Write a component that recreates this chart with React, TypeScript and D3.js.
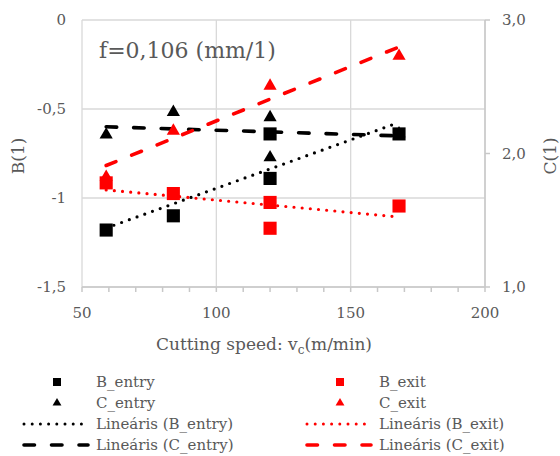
import React, { useEffect, useRef } from 'react';
import * as d3 from 'd3';

// cutting speeds (m/min) for each measured point
const speedsB = [59, 84, 120, 120, 168];
const speedsC = [59, 84, 120, 120, 168];
const speedsCexit = [59, 84, 120, 168];

const bEntry = [-1.18, -1.10, -0.89, -0.64, -0.64];
const cEntry = [2.14, 2.31, 2.27, 1.97, 2.15];
const bExit = [-0.915, -0.975, -1.025, -1.17, -1.045];
const cExit = [1.824, 2.169, 2.506, 2.73];

const xTicks = [50, 100, 150, 200];
const bTicks = [0, -0.5, -1, -1.5];
const cTicks = [1, 2, 3];

const BLACK = '#000000';
const RED = '#ff0000';
const GRID = '#d9d9d9';
const TEXT = '#595959';
const FONT = '"DejaVu Serif", serif';

const fmt = (v: number, digits: number) =>
  (digits ? v.toFixed(digits) : String(v)).replace('.', ',');

// least-squares fit, returns endpoints for the trendline
function trend(xs: number[], ys: number[]) {
  const mx = d3.mean(xs)!;
  const my = d3.mean(ys)!;
  const sxy = d3.sum(xs, (x, i) => (x - mx) * (ys[i] - my));
  const sxx = d3.sum(xs, x => (x - mx) * (x - mx));
  const slope = sxy / sxx;
  const [x0, x1] = d3.extent(xs) as [number, number];
  return [
    [x0, my + slope * (x0 - mx)],
    [x1, my + slope * (x1 - mx)],
  ];
}

const DOTTED = '0 8.2';
const DASHED = '10.5 17';

const App = () => {
  const svgRef = useRef<SVGSVGElement>(null);

  useEffect(() => {
    const width = 560;
    const height = 456;
    const left = 82, right = 485, top = 20, bottom = 287;

    const svg = d3.select(svgRef.current!)
      .attr('width', width)
      .attr('height', height)
      .style('display', 'block')
      .style('position', 'absolute')
      .style('left', '0px')
      .style('top', '0px')
      .style('font-family', FONT);
    svg.selectAll('*').remove();

    const x = d3.scaleLinear().domain([50, 200]).range([left, right]);
    const yB = d3.scaleLinear().domain([0, -1.5]).range([top, bottom]);
    const yC = d3.scaleLinear().domain([1, 3]).range([bottom, top]);

    // gridlines
    const grid = svg.append('g').attr('stroke', GRID).attr('stroke-width', 1.3);
    grid.selectAll('line.h').data(bTicks).join('line')
      .attr('x1', left).attr('x2', right)
      .attr('y1', d => yB(d)).attr('y2', d => yB(d));
    grid.selectAll('line.v').data(xTicks).join('line')
      .attr('y1', top).attr('y2', bottom)
      .attr('x1', d => x(d)).attr('x2', d => x(d));

    // bottom axis with minor ticks
    const axisG = svg.append('g').attr('stroke', '#c8c8c8').attr('stroke-width', 1.5);
    axisG.append('line').attr('x1', left).attr('x2', right).attr('y1', bottom).attr('y2', bottom);
    axisG.selectAll('line.t').data(d3.range(50, 201, 10)).join('line')
      .attr('x1', d => x(d)).attr('x2', d => x(d))
      .attr('y1', bottom).attr('y2', bottom + 5);
    // right axis
    axisG.append('line').attr('x1', right).attr('x2', right).attr('y1', top).attr('y2', bottom);
    axisG.selectAll('line.r').data(cTicks).join('line')
      .attr('x1', right).attr('x2', right + 5)
      .attr('y1', d => yC(d)).attr('y2', d => yC(d));

    // tick labels
    const lab = svg.append('g').attr('fill', TEXT).attr('font-size', 15);
    lab.selectAll('text.x').data(xTicks).join('text')
      .attr('x', d => x(d)).attr('y', 318).attr('text-anchor', 'middle')
      .text(d => d);
    lab.selectAll('text.l').data(bTicks).join('text')
      .attr('x', 66).attr('y', d => yB(d)).attr('dy', '0.35em').attr('text-anchor', 'end')
      .text(d => fmt(d, d === 0 || d === -1 ? 0 : 1));
    lab.selectAll('text.r').data(cTicks).join('text')
      .attr('x', 502).attr('y', d => yC(d)).attr('dy', '0.35em')
      .text(d => fmt(d, 1));

    // axis titles
    const title = svg.append('text').attr('fill', TEXT).attr('font-size', 17)
      .attr('x', 264).attr('y', 350).attr('text-anchor', 'middle');
    title.append('tspan').text('Cutting speed: v');
    title.append('tspan').attr('font-size', 12).attr('dy', 4).text('c');
    title.append('tspan').attr('dy', -4).text('(m/min)');

    svg.append('text').attr('fill', TEXT).attr('font-size', 17)
      .attr('transform', 'translate(24,156) rotate(-90)')
      .attr('text-anchor', 'middle').text('B(1)');
    svg.append('text').attr('fill', TEXT).attr('font-size', 17)
      .attr('transform', 'translate(556,156) rotate(-90)')
      .attr('text-anchor', 'middle').text('C(1)');

    svg.append('text').attr('fill', TEXT).attr('font-size', 22)
      .attr('x', 99).attr('y', 58).text('f=0,106 (mm/1)');

    // trendlines
    const line = d3.line<number[]>();
    const trends = [
      { pts: trend(speedsB, bEntry), y: yB, color: BLACK, dash: DOTTED },
      { pts: trend(speedsB, bExit), y: yB, color: RED, dash: DOTTED },
      { pts: trend(speedsC, cEntry), y: yC, color: BLACK, dash: DASHED },
      { pts: trend(speedsCexit, cExit), y: yC, color: RED, dash: DASHED },
    ];
    const tl = svg.append('g').attr('fill', 'none').attr('stroke-linecap', 'round');
    trends.forEach(t => {
      tl.append('path')
        .attr('d', line(t.pts.map(p => [x(p[0]), t.y(p[1])])))
        .attr('stroke', t.color)
        .attr('stroke-width', t.dash === DOTTED ? 3.2 : 3.6)
        .attr('stroke-dasharray', t.dash);
    });

    // markers
    const sq = d3.symbol(d3.symbolSquare, 172);
    const tri = d3.symbol(d3.symbolTriangle, 75);
    const marks = svg.append('g');
    const addMarks = (xs: number[], ys: number[], y: any, shape: any, color: string) =>
      marks.append('g').selectAll('path').data(ys).join('path')
        .attr('transform', (d, i) => `translate(${x(xs[i])},${y(d)})`)
        .attr('d', shape())
        .attr('fill', color);
    addMarks(speedsC, cEntry, yC, tri, BLACK);
    addMarks(speedsCexit, cExit, yC, tri, RED);
    addMarks(speedsB, bEntry, yB, sq, BLACK);
    addMarks(speedsB, bExit, yB, sq, RED);

    // legend
    const legend = [
      { name: 'B_entry', color: BLACK, kind: 'sq', col: 0, row: 0 },
      { name: 'B_exit', color: RED, kind: 'sq', col: 1, row: 0 },
      { name: 'C_entry', color: BLACK, kind: 'tri', col: 0, row: 1 },
      { name: 'C_exit', color: RED, kind: 'tri', col: 1, row: 1 },
      { name: 'Lineáris (B_entry)', color: BLACK, kind: DOTTED, col: 0, row: 2 },
      { name: 'Lineáris (B_exit)', color: RED, kind: DOTTED, col: 1, row: 2 },
      { name: 'Lineáris (C_entry)', color: BLACK, kind: DASHED, col: 0, row: 3 },
      { name: 'Lineáris (C_exit)', color: RED, kind: DASHED, col: 1, row: 3 },
    ];
    const rowY = [382, 403, 424, 445];
    const colX = [23, 306];
    const lg = svg.append('g').attr('font-size', 15).attr('fill', TEXT);
    legend.forEach(l => {
      const x0 = colX[l.col];
      const yy = rowY[l.row];
      if (l.kind === 'sq') {
        lg.append('path').attr('d', d3.symbol(d3.symbolSquare, 64)())
          .attr('transform', `translate(${x0 + 34},${yy})`).attr('fill', l.color);
      } else if (l.kind === 'tri') {
        lg.append('path').attr('d', d3.symbol(d3.symbolTriangle, 34)())
          .attr('transform', `translate(${x0 + 34},${yy})`).attr('fill', l.color);
      } else {
        lg.append('line').attr('x1', x0 + 1).attr('x2', x0 + 65)
          .attr('y1', yy).attr('y2', yy)
          .attr('stroke', l.color).attr('stroke-linecap', 'round')
          .attr('stroke-width', l.kind === DOTTED ? 3 : 3.6)
          .attr('stroke-dasharray', l.kind);
      }
      lg.append('text').attr('x', x0 + 73).attr('y', yy).attr('dy', '0.35em').text(l.name);
    });
  }, []);

  return <svg ref={svgRef} />;
};

export default App;
